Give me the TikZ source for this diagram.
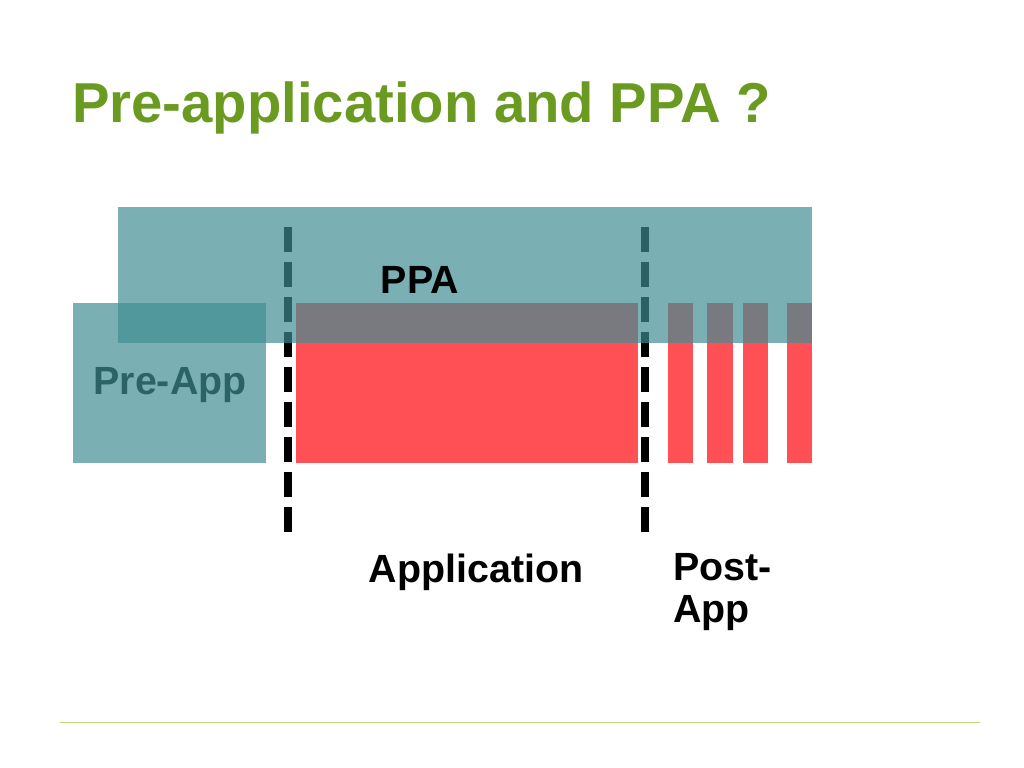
\documentclass[tikz,border=0pt]{standalone}
\usepackage{fontspec}
\setmainfont{Liberation Sans}
\usetikzlibrary{positioning}
\definecolor{ppateal}{RGB}{62,141,146}
\definecolor{appred}{RGB}{255,80,85}
\definecolor{titlegreen}{RGB}{106,154,31}
\definecolor{linegreen}{RGB}{190,215,120}
\begin{document}
\begin{tikzpicture}[
    x=0.025cm, y=-0.025cm,
    label/.style={font=\bfseries\fontsize{28}{30}\selectfont, align=left, inner sep=0pt},
    bar/.style={fill=appred},
    overlay box/.style={fill=ppateal, fill opacity=0.69},
    phase line/.style={line width=0.2cm, dash pattern=on 0.625cm off 0.25cm}
]
    \useasboundingbox (0,0) rectangle (1024,768);
    % Title
    \node[anchor=west, inner sep=0pt, text=titlegreen, font=\bfseries\fontsize{40}{44}\selectfont] (title) at (72,108) {Pre-application and PPA ?};
    % Application and post-app bars
    \fill[bar] (296,303) rectangle (638,463);
    \foreach \xa/\xb in {668/693, 707/733, 743/768, 787/812}
        \fill[bar] (\xa,303) rectangle (\xb,463);
    % Phase boundaries
    \coordinate (l1top) at (288,227);
    \coordinate (l1bot) at (288,540);
    \coordinate (l2top) at (645,227);
    \coordinate (l2bot) at (645,540);
    \draw[phase line] (l1top) -- (l1bot);
    \draw[phase line] (l2top) -- (l2bot);
    % Overlays
    \fill[overlay box] (118,207) rectangle (812,343);
    \fill[overlay box] (73,303) rectangle (266,463);
    % Labels
    \node[label, text=black] (ppa) at (420,280) {PPA};
    \node[label, text=ppateal!70!black] (preapp) at (170,385) {Pre-App};
    \node[label] (app) at (476,572) {Application};
    \node[label, anchor=north west] (postapp) at (673,553) {Post-\\App};
    % Footer rule
    \coordinate (rulel) at (60,722);
    \coordinate (ruler) at (980,722);
    \draw[linegreen, line width=0.6pt] (rulel) -- (ruler);
\end{tikzpicture}
\end{document}
